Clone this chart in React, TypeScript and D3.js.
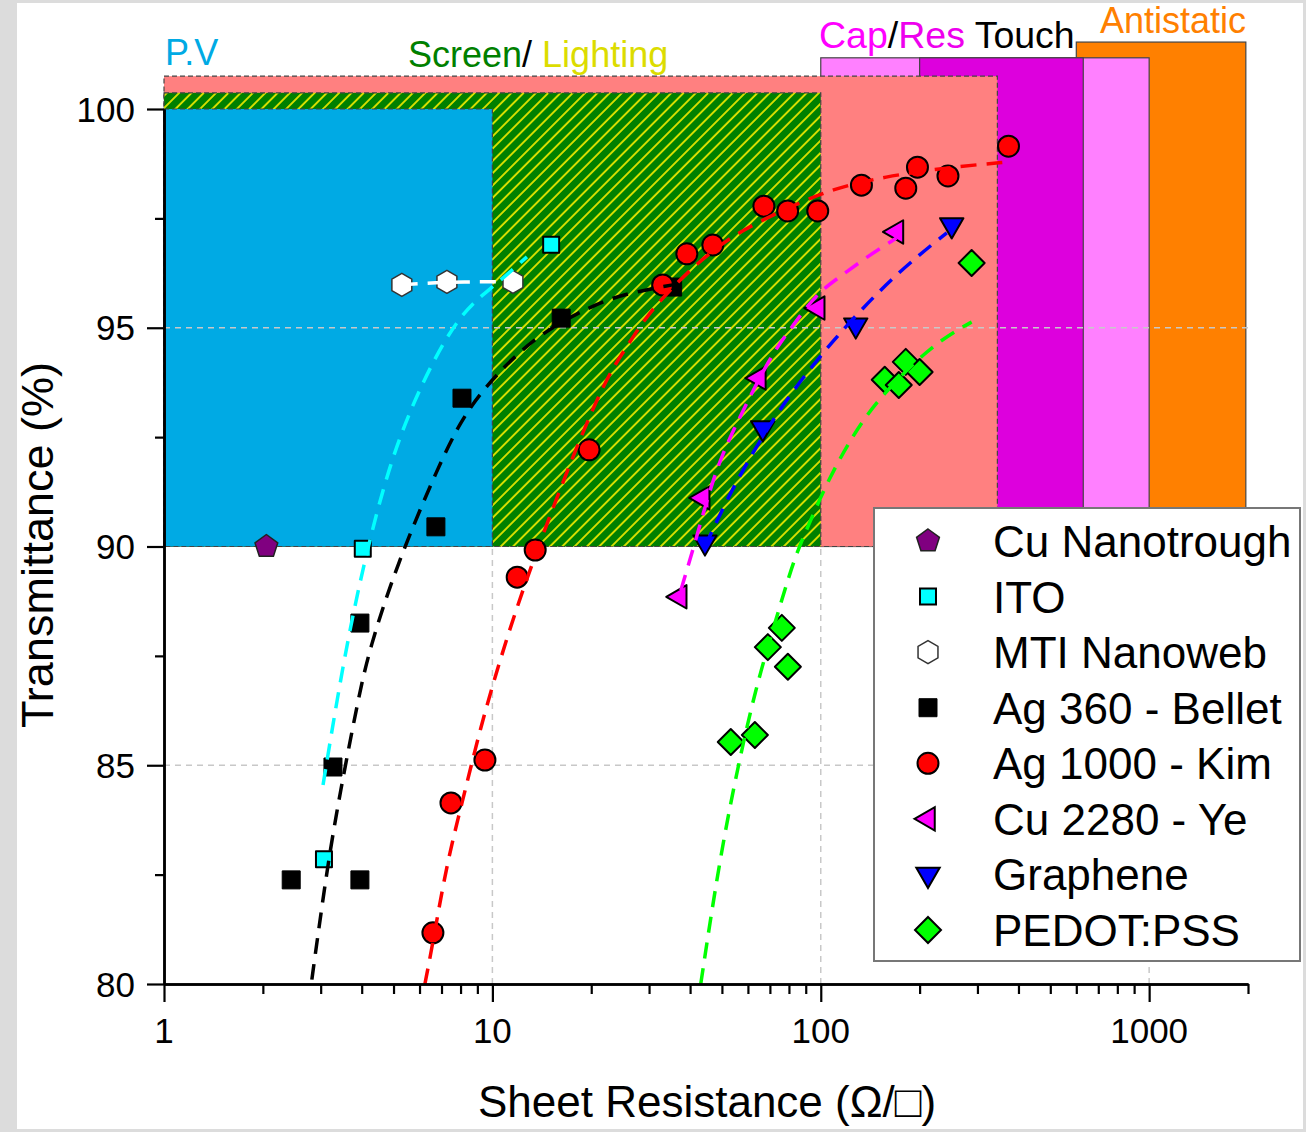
import React, { useEffect, useRef } from 'react';
import * as d3 from 'd3';

// ---- measured points (sheet resistance in ohm/sq, transmittance in %) ----
const cuNanoR = [2.05];
const cuNanoT = [90.0];

const itoR = [3.07, 4.03, 15.1];
const itoT = [82.85, 89.95, 96.9];

const mtiR = [5.3, 7.27, 11.55];
const mtiT = [95.98, 96.05, 96.05];

const ag360R = [2.44, 3.27, 3.95, 3.95, 6.73, 8.08, 16.2, 35.4];
const ag360T = [82.38, 84.96, 82.38, 88.25, 90.45, 93.39, 95.22, 95.93];

const ag1000R = [6.59, 7.48, 9.49, 11.9, 13.5, 19.7, 33.0, 39.1, 46.9, 67.1, 79.3, 97.9, 133, 181.5, 197, 244, 373];
const ag1000T = [81.17, 84.14, 85.12, 89.3, 89.92, 92.21, 95.98, 96.69, 96.89, 97.78, 97.67, 97.67, 98.26, 98.19, 98.67, 98.47, 99.15];

const cu2280R = [37.2, 43.7, 64.8, 97.9, 170];
const cu2280T = [88.85, 91.11, 93.85, 95.45, 97.19];

const grapheneR = [44.4, 66.6, 127.8, 250.5];
const grapheneT = [90.1, 92.71, 95.06, 97.35];

const pedotR = [53.2, 63.0, 69.0, 76.1, 79.4, 156.6, 172.8, 181.5, 200, 288];
const pedotT = [85.53, 85.69, 87.7, 88.14, 87.25, 93.81, 93.69, 94.22, 93.99, 96.48];

// ---- fitted curves ----
const itoFitR = [3.05, 3.51, 4.03, 4.88, 6.14, 7.96, 10.04, 12.74];
const itoFitT = [84.55, 87.34, 89.53, 91.98, 93.81, 95.34, 95.93, 96.62];

const ag360FitR = [2.82, 2.92, 3.2, 3.51, 3.9, 4.21, 5.12, 6.92, 7.96, 9.29, 13.28, 20.2, 25.7, 35.4];
const ag360FitT = [80.1, 80.94, 83.06, 84.73, 86.49, 87.63, 89.6, 91.91, 92.82, 93.58, 94.79, 95.52, 95.79, 95.98];

const ag1000FitR = [6.23, 6.59, 7.27, 8.13, 9.16, 10.54, 13.0, 21.2, 25.7, 30.2, 42.8, 56.7, 90.7, 111.9, 154.4, 247, 373];
const ag1000FitT = [80.0, 80.94, 82.77, 84.21, 85.81, 87.41, 89.53, 93.65, 94.56, 95.41, 96.55, 97.23, 97.94, 98.19, 98.45, 98.67, 98.79];

const cu2280FitR = [37.5, 41.9, 45.9, 50.3, 56.7, 70, 80.4, 97.3, 114.3, 138, 170];
const cu2280FitT = [89.0, 90.22, 91.29, 92.14, 92.96, 94.33, 94.95, 95.79, 96.16, 96.62, 97.05];

const grapheneFitR = [44.4, 51.7, 59.5, 76.6, 108.8, 154.4, 196, 242];
const grapheneFitT = [90.0, 91.06, 91.91, 93.28, 94.72, 95.93, 96.62, 97.17];

const pedotFitR = [43.1, 49.3, 56.7, 64.3, 76.1, 83.4, 91.3, 104.3, 122.6, 148.1, 214.7, 270.5, 288];
const pedotFitT = [80.0, 82.9, 85.19, 86.95, 88.78, 89.76, 90.45, 91.45, 92.43, 93.35, 94.56, 95.02, 95.13];

// ---- application zones (R range, top transmittance, bottom is 90 %) ----
const zoneKeys = ['antistatic', 'capTouch', 'resTouch', 'touch', 'screen', 'pv'];
const zoneFrom = [600, 100, 200, 1, 1, 1];
const zoneTo = [1970, 1000, 630, 345, 100, 10];
const zoneTop = [101.53, 101.17, 101.17, 100.75, 100.37, 100];
const zoneBottom = 90;

// ---- axes ----
const xMajor = [1, 10, 100, 1000];
const xMinor = [2, 3, 4, 5, 6, 7, 8, 9, 20, 30, 40, 50, 60, 70, 80, 90, 200, 300, 400, 500, 600, 700, 800, 900, 2000];
const yMajor = [80, 85, 90, 95, 100];
const yMinor = [82.5, 87.5, 92.5, 97.5];
const yGrid = [85, 95];

const legendNames = ['Cu Nanotrough', 'ITO', 'MTI Nanoweb', 'Ag 360 - Bellet', 'Ag 1000 - Kim', 'Cu 2280 - Ye', 'Graphene', 'PEDOT:PSS'];

const FONT = "'Liberation Sans', Arial, Helvetica, sans-serif";

const zoneStyle = {
  antistatic: { fill: '#ff8000', dash: null },
  capTouch: { fill: '#ff80ff', dash: null },
  resTouch: { fill: '#dd00dd', dash: null },
  touch: { fill: '#ff8080', dash: '5,3' },
  screen: { fill: 'url(#hatch)', dash: '5,3' },
  pv: { fill: '#00aae4', dash: '5,3' },
};

function markerPath(kind) {
  const poly = (pts) => 'M' + pts.map((p) => p[0].toFixed(2) + ',' + p[1].toFixed(2)).join('L') + 'Z';
  const ring = (n, r, start) =>
    d3.range(n).map((k) => {
      const a = ((start + (k * 360) / n) * Math.PI) / 180;
      return [r * Math.cos(a), r * Math.sin(a)];
    });
  switch (kind) {
    case 'pentagon':
      return poly(ring(5, 12, -90));
    case 'hexagon':
      return poly(ring(6, 11.5, -90));
    case 'square':
      return poly([[-9, -9], [9, -9], [9, 9], [-9, 9]]);
    case 'smallSquare':
      return poly([[-8, -8], [8, -8], [8, 8], [-8, 8]]);
    case 'circle':
      return d3.symbol(d3.symbolCircle, Math.PI * 10.5 * 10.5)();
    case 'triLeft':
      return poly(ring(3, 13.5, 180));
    case 'triDown':
      return poly(ring(3, 13.5, 90));
    case 'diamond':
      return poly([[0, -13], [13, 0], [0, 13], [-13, 0]]);
    default:
      return '';
  }
}

const series = [
  { r: cuNanoR, t: cuNanoT, shape: 'pentagon', fill: '#800080', stroke: '#222', sw: 1.5 },
  { r: itoR, t: itoT, shape: 'smallSquare', fill: '#00ffff', stroke: '#000', sw: 2 },
  { r: mtiR, t: mtiT, shape: 'hexagon', fill: '#ffffff', stroke: '#333', sw: 1.5 },
  { r: ag360R, t: ag360T, shape: 'square', fill: '#000000', stroke: '#000', sw: 1 },
  { r: ag1000R, t: ag1000T, shape: 'circle', fill: '#ff0000', stroke: '#000', sw: 2 },
  { r: cu2280R, t: cu2280T, shape: 'triLeft', fill: '#ff00ff', stroke: '#000', sw: 2 },
  { r: grapheneR, t: grapheneT, shape: 'triDown', fill: '#0000ff', stroke: '#000', sw: 2 },
  { r: pedotR, t: pedotT, shape: 'diamond', fill: '#00ff00', stroke: '#000', sw: 2 },
];

const fits = [
  { r: itoFitR, t: itoFitT, color: '#00ffff' },
  { r: mtiR, t: mtiT, color: '#ffffff' },
  { r: ag360FitR, t: ag360FitT, color: '#000000' },
  { r: ag1000FitR, t: ag1000FitT, color: '#ff0000' },
  { r: cu2280FitR, t: cu2280FitT, color: '#ff00ff' },
  { r: grapheneFitR, t: grapheneFitT, color: '#0000ff' },
  { r: pedotFitR, t: pedotFitT, color: '#00ff00' },
];

export default function App() {
  const ref = useRef<SVGSVGElement>(null);

  useEffect(() => {
    const svg = d3.select(ref.current);
    svg.selectAll('*').remove();

    const x = d3.scaleLog().domain([1, 2000]).range([164, 1248]);
    const y = d3.scaleLinear().domain([80, 100]).range([984, 109]);

    // page frame
    svg.append('rect').attr('width', 1306).attr('height', 1132).attr('fill', '#dcdcdc');
    svg.append('rect').attr('x', 17).attr('y', 3).attr('width', 1286).attr('height', 1126).attr('fill', '#ffffff');

    // hatch pattern for the screen / lighting zone
    const defs = svg.append('defs');
    const pat = defs
      .append('pattern')
      .attr('id', 'hatch')
      .attr('patternUnits', 'userSpaceOnUse')
      .attr('width', 8.7)
      .attr('height', 8.7)
      .attr('patternTransform', 'rotate(45)');
    pat.append('rect').attr('width', 8.7).attr('height', 8.7).attr('fill', '#008000');
    pat.append('line').attr('x1', 1).attr('y1', 0).attr('x2', 1).attr('y2', 8.7).attr('stroke', '#e6e600').attr('stroke-width', 1.8);

    // vertical grid behind the zones
    svg
      .append('g')
      .selectAll('line')
      .data(xMajor.slice(1))
      .enter()
      .append('line')
      .attr('x1', (d) => x(d))
      .attr('x2', (d) => x(d))
      .attr('y1', y(80))
      .attr('y2', y(100))
      .attr('stroke', '#c8c8c8')
      .attr('stroke-width', 1.5)
      .attr('stroke-dasharray', '6,5');

    // zones
    svg
      .append('g')
      .selectAll('rect')
      .data(zoneKeys)
      .enter()
      .append('rect')
      .attr('x', (d, i) => x(zoneFrom[i]))
      .attr('y', (d, i) => y(zoneTop[i]))
      .attr('width', (d, i) => x(zoneTo[i]) - x(zoneFrom[i]))
      .attr('height', (d, i) => y(zoneBottom) - y(zoneTop[i]))
      .attr('fill', (d) => zoneStyle[d].fill)
      .attr('stroke', '#444')
      .attr('stroke-width', 1.2)
      .attr('stroke-dasharray', (d) => zoneStyle[d].dash);

    // horizontal grid on top of zones
    svg
      .append('g')
      .selectAll('line')
      .data(yGrid)
      .enter()
      .append('line')
      .attr('x1', x(1))
      .attr('x2', x(2000))
      .attr('y1', (d) => y(d))
      .attr('y2', (d) => y(d))
      .attr('stroke', '#c8c8c8')
      .attr('stroke-width', 1.5)
      .attr('stroke-dasharray', '6,5');

    // zone titles
    const titles = svg.append('g').attr('font-family', FONT).attr('font-size', 36);
    titles.append('text').attr('x', 165).attr('y', 65).attr('fill', '#00aae4').text('P.V');
    const scr = titles.append('text').attr('x', 408).attr('y', 67);
    scr.append('tspan').attr('fill', '#008000').text('Screen');
    scr.append('tspan').attr('fill', '#000').text('/ ');
    scr.append('tspan').attr('fill', '#dcdc00').text('Lighting');
    const cap = titles.append('text').attr('x', 819).attr('y', 48).attr('font-size', 37.5);
    cap.append('tspan').attr('fill', '#ff00ff').text('Cap');
    cap.append('tspan').attr('fill', '#000').text('/');
    cap.append('tspan').attr('fill', '#ee00ee').text('Res');
    cap.append('tspan').attr('fill', '#000').text(' Touch');
    titles.append('text').attr('x', 1100).attr('y', 33).attr('fill', '#ff8000').text('Antistatic');

    // markers
    const marks = svg.append('g');
    series.forEach((s) => {
      marks
        .append('g')
        .selectAll('path')
        .data(s.r.map((r, i) => [r, s.t[i]]))
        .enter()
        .append('path')
        .attr('d', markerPath(s.shape))
        .attr('transform', (d) => 'translate(' + x(d[0]) + ',' + y(d[1]) + ')')
        .attr('fill', s.fill)
        .attr('stroke', s.stroke)
        .attr('stroke-width', s.sw)
        .attr('stroke-linejoin', 'round');
    });

    // fitted dashed curves
    const line = d3
      .line()
      .x((d) => x(d[0]))
      .y((d) => y(d[1]))
      .curve(d3.curveBasis);
    fits.forEach((f) => {
      svg
        .append('path')
        .datum(f.r.map((r, i) => [r, f.t[i]]))
        .attr('d', line)
        .attr('fill', 'none')
        .attr('stroke', f.color)
        .attr('stroke-width', 3.5)
        .attr('stroke-dasharray', '16,10');
    });

    // axes
    const axes = svg.append('g');
    const xAxisMajor = d3.axisBottom(x).tickValues(xMajor).tickSize(18).tickSizeOuter(0).tickFormat(() => '');
    const xAxisMinor = d3.axisBottom(x).tickValues(xMinor).tickSize(10).tickSizeOuter(0).tickFormat(() => '');
    const yAxisMajor = d3.axisLeft(y).tickValues(yMajor).tickSize(17).tickSizeOuter(0).tickFormat(() => '');
    const yAxisMinor = d3.axisLeft(y).tickValues(yMinor).tickSize(9).tickSizeOuter(0).tickFormat(() => '');
    [
      [xAxisMinor, 'translate(0,' + y(80) + ')'],
      [xAxisMajor, 'translate(0,' + y(80) + ')'],
      [yAxisMinor, 'translate(' + x(1) + ',0)'],
      [yAxisMajor, 'translate(' + x(1) + ',0)'],
    ].forEach(([ax, tr]) => {
      const g = axes.append('g').attr('transform', tr).call(ax);
      g.selectAll('line').attr('stroke', '#000').attr('stroke-width', 2.2);
      g.select('.domain').attr('stroke', '#000').attr('stroke-width', 2.5);
    });

    // tick labels
    const tl = svg.append('g').attr('font-family', FONT).attr('font-size', 35).attr('fill', '#000');
    tl.selectAll('text.xl')
      .data(xMajor)
      .enter()
      .append('text')
      .attr('x', (d) => x(d))
      .attr('y', 1043)
      .attr('text-anchor', 'middle')
      .text((d) => String(d));
    tl.selectAll('text.yl')
      .data(yMajor)
      .enter()
      .append('text')
      .attr('x', 135)
      .attr('y', (d) => y(d) + 12.5)
      .attr('text-anchor', 'end')
      .text((d) => String(d));

    // axis titles
    svg
      .append('text')
      .attr('x', 707)
      .attr('y', 1117)
      .attr('text-anchor', 'middle')
      .attr('font-family', FONT)
      .attr('font-size', 44)
      .text('Sheet Resistance (\u03A9/\u25A1)');
    svg
      .append('text')
      .attr('transform', 'translate(53,' + 545 + ') rotate(-90)')
      .attr('text-anchor', 'middle')
      .attr('font-family', FONT)
      .attr('font-size', 45)
      .text('Transmittance (%)');

    // legend
    const lg = svg.append('g');
    lg.append('rect')
      .attr('x', 874)
      .attr('y', 508)
      .attr('width', 426)
      .attr('height', 453)
      .attr('fill', '#fff')
      .attr('stroke', '#777')
      .attr('stroke-width', 2);
    const rowY = d3.scaleLinear().domain([0, 7]).range([541, 930]);
    series.forEach((s, i) => {
      lg.append('path')
        .attr('d', markerPath(s.shape))
        .attr('transform', 'translate(928,' + rowY(i) + ')')
        .attr('fill', s.fill)
        .attr('stroke', s.stroke)
        .attr('stroke-width', s.sw);
      lg.append('text')
        .attr('x', 993)
        .attr('y', rowY(i) + 16)
        .attr('font-family', FONT)
        .attr('font-size', 44)
        .attr('fill', '#000')
        .text(legendNames[i]);
    });
  }, []);

  return <svg ref={ref} width={1306} height={1132} style={{ position: 'absolute', left: 0, top: 0 }} />;
}
